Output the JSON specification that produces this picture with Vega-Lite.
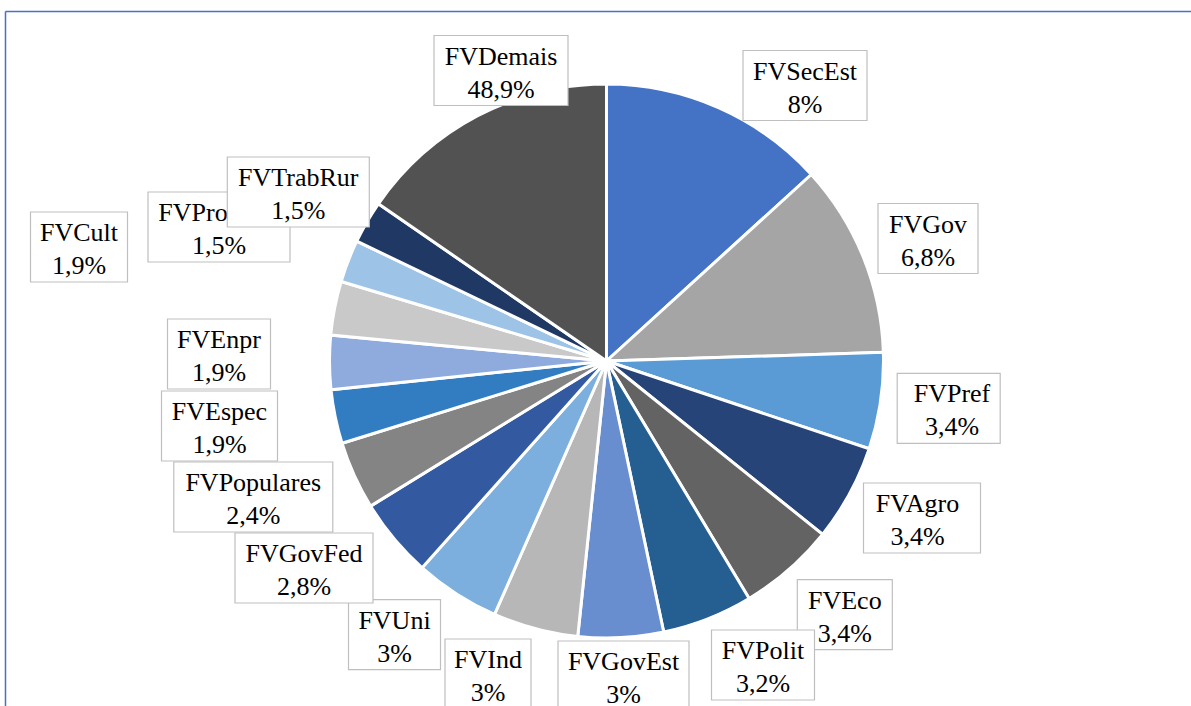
{
  "$schema": "https://vega.github.io/schema/vega-lite/v6.json",
  "width": 1186,
  "height": 695,
  "autosize": "none",
  "padding": {"left": 5, "top": 11, "right": 0, "bottom": 0},
  "background": "white",
  "config": {"view": {"stroke": null}},
  "data": {
    "values": [
      {"order": 0, "name": "FVSecEst", "pct": "8%", "value": 8},
      {"order": 1, "name": "FVGov", "pct": "6,8%", "value": 6.8},
      {"order": 2, "name": "FVPref", "pct": "3,4%", "value": 3.4},
      {"order": 3, "name": "FVAgro", "pct": "3,4%", "value": 3.4},
      {"order": 4, "name": "FVEco", "pct": "3,4%", "value": 3.4},
      {"order": 5, "name": "FVPolit", "pct": "3,2%", "value": 3.2},
      {"order": 6, "name": "FVGovEst", "pct": "3%", "value": 3},
      {"order": 7, "name": "FVInd", "pct": "3%", "value": 3},
      {"order": 8, "name": "FVUni", "pct": "3%", "value": 3},
      {"order": 9, "name": "FVGovFed", "pct": "2,8%", "value": 2.8},
      {"order": 10, "name": "FVPopulares", "pct": "2,4%", "value": 2.4},
      {"order": 11, "name": "FVEspec", "pct": "1,9%", "value": 1.9},
      {"order": 12, "name": "FVEnpr", "pct": "1,9%", "value": 1.9},
      {"order": 13, "name": "FVCult", "pct": "1,9%", "value": 1.9},
      {"order": 14, "name": "FVProdRur", "pct": "1,5%", "value": 1.5},
      {"order": 15, "name": "FVTrabRur", "pct": "1,5%", "value": 1.5},
      {"order": 16, "name": "FVDemais", "pct": "48,9%", "value": 9.3}
    ]
  },
  "transform": [
    {"calculate": "[198.5,321.5,342.2,315.5,238.3,156.5,17,-118.5,-212,-302.5,-353.2,-387,-387.5,-527.5,-387.5,-308.2,-105.5][datum.order]", "as": "lx"},
    {"calculate": "[275.5,122.5,-47.3,-157,-253.7,-304,-315,-313,-273.7,-207,-136,-65,7,114,134,169,290.5][datum.order]", "as": "ly"},
    {"calculate": "[124,100,103,117,95,103,131,86,92,138,159,116,103,97,142,142,134][datum.order]", "as": "bw"},
    {"calculate": "[0,0,3.3,-4.5,0,0,0,0,0,0,0,0,0,0,0,0,0][datum.order]", "as": "tdx"},
    {"calculate": "datum.lx - datum.bw / 2", "as": "bx1"},
    {"calculate": "datum.lx + datum.bw / 2", "as": "bx2"},
    {"calculate": "datum.ly - 35", "as": "by1"},
    {"calculate": "datum.ly + 35", "as": "by2"},
    {"calculate": "datum.lx + datum.tdx", "as": "tx"},
    {"calculate": "[datum.name, datum.pct]", "as": "lines"}
  ],
  "layer": [
    {
      "mark": {"type": "arc", "outerRadius": 277, "stroke": "white", "strokeWidth": 3},
      "encoding": {
        "theta": {"field": "value", "type": "quantitative", "stack": true},
        "order": {"field": "order", "type": "quantitative"},
        "color": {
          "field": "name", "type": "nominal", "legend": null,
          "scale": {
            "domain": ["FVSecEst","FVGov","FVPref","FVAgro","FVEco","FVPolit","FVGovEst","FVInd","FVUni","FVGovFed","FVPopulares","FVEspec","FVEnpr","FVCult","FVProdRur","FVTrabRur","FVDemais"],
            "range": ["#4472C4","#A5A5A5","#5B9BD5","#264478","#636363","#255E91","#698ED0","#B7B7B7","#7CAFDD","#335AA1","#848484","#327DC2","#8FAADC","#C9C9C9","#9DC3E6","#203864","#525252"]
          }
        },
        "x": {"datum": 0, "type": "quantitative", "scale": {"domain": [-601.5, 584.5], "nice": false, "zero": false},
              "axis": {"orient": "top", "labels": false, "ticks": false, "grid": false, "title": null, "domainColor": "#4472C4", "domainWidth": 1.5}},
        "y": {"datum": 0, "type": "quantitative", "scale": {"domain": [-345, 350], "nice": false, "zero": false},
              "axis": {"orient": "left", "labels": false, "ticks": false, "grid": false, "title": null, "domainColor": "#4472C4", "domainWidth": 1.5}}
      }
    },
    {
      "transform": [{"filter": "datum.order != 15"}],
      "mark": {"type": "rect", "fill": "white", "stroke": "#BFBFBF", "strokeWidth": 1.2},
      "encoding": {
        "x": {"field": "bx1", "type": "quantitative"},
        "x2": {"field": "bx2"},
        "y": {"field": "by1", "type": "quantitative"},
        "y2": {"field": "by2"}
      }
    },
    {
      "transform": [{"filter": "datum.order != 15"}],
      "mark": {"type": "text", "font": "'Liberation Serif', 'Times New Roman', 'DejaVu Serif', serif", "fontSize": 26, "lineHeight": 33, "align": "center", "baseline": "middle", "dy": -14, "color": "black"},
      "encoding": {
        "x": {"field": "tx", "type": "quantitative"},
        "y": {"field": "ly", "type": "quantitative"},
        "text": {"field": "lines"}
      }
    },
    {
      "transform": [{"filter": "datum.order == 15"}],
      "mark": {"type": "rect", "fill": "white", "stroke": "#BFBFBF", "strokeWidth": 1.2},
      "encoding": {
        "x": {"field": "bx1", "type": "quantitative"},
        "x2": {"field": "bx2"},
        "y": {"field": "by1", "type": "quantitative"},
        "y2": {"field": "by2"}
      }
    },
    {
      "transform": [{"filter": "datum.order == 15"}],
      "mark": {"type": "text", "font": "'Liberation Serif', 'Times New Roman', 'DejaVu Serif', serif", "fontSize": 26, "lineHeight": 33, "align": "center", "baseline": "middle", "dy": -14, "color": "black"},
      "encoding": {
        "x": {"field": "tx", "type": "quantitative"},
        "y": {"field": "ly", "type": "quantitative"},
        "text": {"field": "lines"}
      }
    }
  ]
}
